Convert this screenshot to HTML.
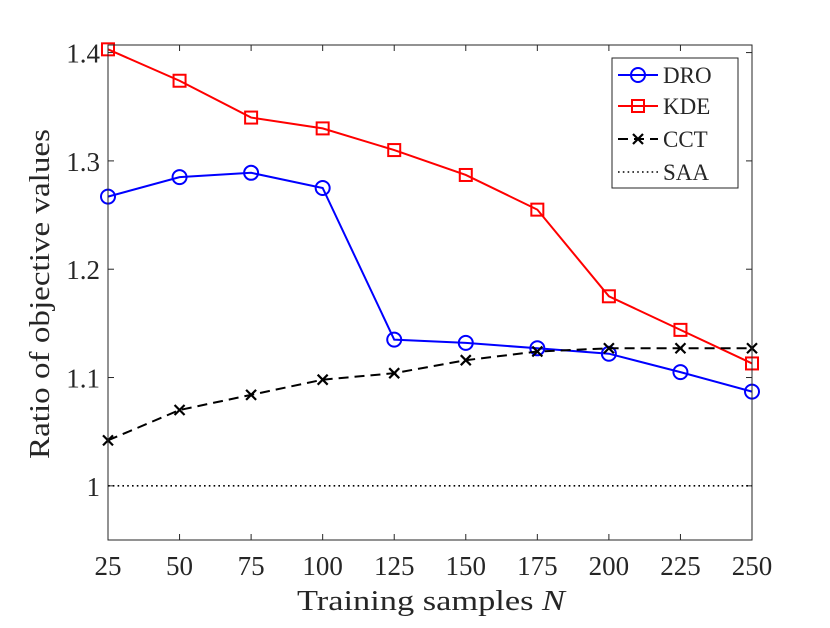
<!DOCTYPE html>
<html><head><meta charset="utf-8"><style>
body{margin:0;background:#fff}
text{font-family:"Liberation Serif",serif;fill:#262626}
</style></head><body>
<svg id="chart" width="830" height="623" xmlns="http://www.w3.org/2000/svg">
<rect width="830" height="623" fill="#fff"/>
<g id="grid"></g>
<g id="series"></g>
<rect x="108" y="45" width="644" height="495" fill="none" stroke="#262626" stroke-width="1"/>
<text x="431" y="610" text-anchor="middle" font-size="29" textLength="268" lengthAdjust="spacingAndGlyphs">Training samples <tspan font-style="italic">N</tspan></text>
<text transform="translate(49,294) rotate(-90)" text-anchor="middle" font-size="29" textLength="330" lengthAdjust="spacingAndGlyphs">Ratio of objective values</text>
<g>
<rect x="612" y="58" width="126" height="130" fill="#fff" stroke="#262626" stroke-width="1"/>
<g id="legend-items"></g>
</g>
</svg>
<script>
const categories=[25,50,75,100,125,150,175,200,225,250];
const droValues=[1.267,1.285,1.289,1.275,1.135,1.132,1.127,1.122,1.105,1.087];
const kdeValues=[1.403,1.374,1.340,1.330,1.310,1.287,1.255,1.175,1.144,1.113];
const cctValues=[1.042,1.070,1.084,1.098,1.104,1.116,1.124,1.127,1.127,1.127];
const saaValue=1;
const xTicks=[25,50,75,100,125,150,175,200,225,250];
const yTicks=[1,1.1,1.2,1.3,1.4];
const yTickLabels=["1","1.1","1.2","1.3","1.4"];

const NS="http://www.w3.org/2000/svg";
const L=108,R=752,T=45,B=540,XMIN=25,XMAX=250,YMIN=0.95,YMAX=1.407;
const xs=v=>L+(v-XMIN)/(XMAX-XMIN)*(R-L);
const ys=v=>B-(v-YMIN)/(YMAX-YMIN)*(B-T);
function mk(tag,attrs,parent){const e=document.createElementNS(NS,tag);for(const k in attrs)e.setAttribute(k,attrs[k]);parent.appendChild(e);return e;}
const grid=document.getElementById('grid'),ser=document.getElementById('series'),leg=document.getElementById('legend-items');

xTicks.forEach(v=>{
  const x=xs(v);
  const t=mk('line',{x1:x,x2:x,y1:B,y2:B-6,stroke:'#262626'},grid);
  
  
  const t2=mk('line',{x1:x,x2:x,y1:T,y2:T+6,stroke:'#262626'},grid);
  
  
  const lb=mk('text',{x:x,y:575,'text-anchor':'middle','font-size':27},grid);
  lb.textContent=v;
  
  
});
yTicks.forEach((v,i)=>{
  const y=ys(v);
  const t=mk('line',{x1:L,x2:L+6,y1:y,y2:y,stroke:'#262626'},grid);
  
  
  const t2=mk('line',{x1:R,x2:R-6,y1:y,y2:y,stroke:'#262626'},grid);
  
  
  const lb=mk('text',{x:L-8,y:y+10,'text-anchor':'end','font-size':27},grid);
  lb.textContent=yTickLabels[i];
  
  
});

function marker(type,x,y,color,parent){
  let m;
  if(type==='o'){m=mk('circle',{cx:x,cy:y,r:7,fill:'none',stroke:color,'stroke-width':2},parent);}
  else if(type==='s'){m=mk('rect',{x:x-6,y:y-6,width:12,height:12,fill:'none',stroke:color,'stroke-width':2},parent);}
  else {m=mk('path',{d:`M${x-5},${y-5}L${x+5},${y+5}M${x-5},${y+5}L${x+5},${y-5}`,stroke:color,'stroke-width':2.2},parent);}
  return m;
}
const seriesDefs=[
  {name:'DRO',vals:droValues,color:'#0000ff',dash:'',mk:'o'},
  {name:'KDE',vals:kdeValues,color:'#ff0000',dash:'',mk:'s'},
  {name:'CCT',vals:cctValues,color:'#000000',dash:'10,6',mk:'x'}
];
const saa=mk('line',{x1:L,x2:R,y1:ys(saaValue),y2:ys(saaValue),stroke:'#000','stroke-width':1.6,'stroke-dasharray':'1.6,3.2'},ser);


seriesDefs.forEach(s=>{
  const g=mk('g',{},ser);
  
  
  const d=s.vals.map((v,i)=>(i?'L':'M')+xs(categories[i])+','+ys(v)).join('');
  const p=mk('path',{d:d,fill:'none',stroke:s.color,'stroke-width':2,'stroke-dasharray':s.dash},g);
  
  
  s.vals.forEach((v,i)=>{
    const m=marker(s.mk,xs(categories[i]),ys(v),s.color,g);
    
    
  });
});
const legY=[75,106,139,172];
seriesDefs.concat([{name:'SAA',color:'#000',dash:'1.6,3.2',mk:null}]).forEach((s,i)=>{
  const g=mk('g',{},leg);
  
  
  const y=legY[i];
  mk('line',{x1:618,x2:658,y1:y,y2:y,stroke:s.color,'stroke-width':s.mk?2:1.6,'stroke-dasharray':s.dash},g);
  if(s.mk)marker(s.mk,638,y,s.color,g);
  const t=mk('text',{x:663,y:y+8,'font-size':23},g);
  t.textContent=s.name;
});
</script>
</body></html>
